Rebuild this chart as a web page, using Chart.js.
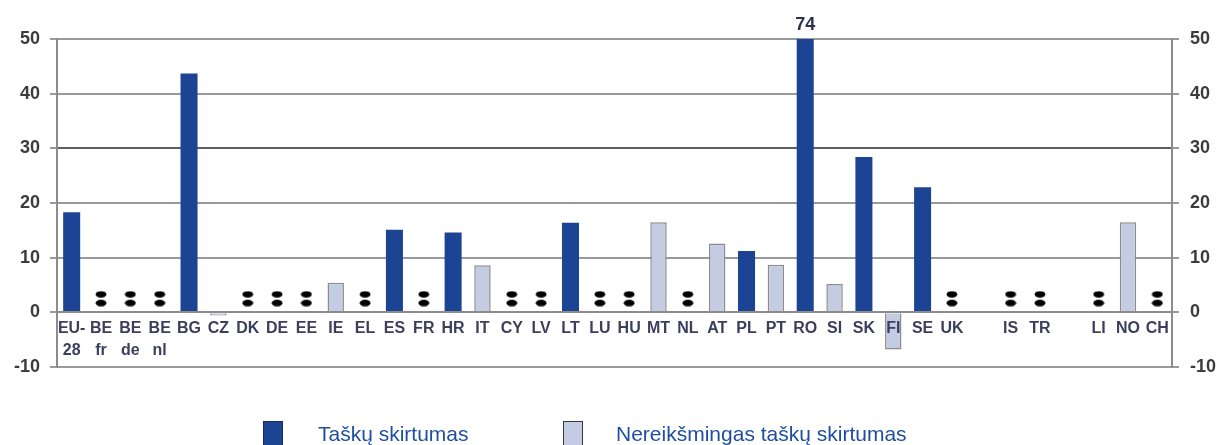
<!DOCTYPE html>
<html>
<head>
<meta charset="utf-8">
<script src="https://cdn.jsdelivr.net/npm/chart.js@4.4.1/dist/chart.umd.min.js"></script>
<style>
html,body{margin:0;padding:0;background:#fff;}
#wrap{position:relative;width:1220px;height:445px;overflow:hidden;background:#fff;}
#c{position:absolute;left:0;top:0;}
.sw{position:absolute;top:421px;width:20px;height:30px;box-sizing:border-box;}
.lt{position:absolute;top:422px;font:21px "Liberation Sans",Arial,sans-serif;color:#1f4e9f;white-space:nowrap;line-height:24px;}
</style>
</head>
<body>
<div id="wrap">
<canvas id="c" width="1220" height="445"></canvas>
<div class="sw" style="left:263px;background:#1d4395;border:1px solid #1a2a5a;"></div>
<div class="lt" style="left:318px;">Taškų skirtumas</div>
<div class="sw" style="left:563px;background:#c4cce4;border:1px solid #3a3a3a;"></div>
<div class="lt" style="left:616px;">Nereikšmingas taškų skirtumas</div>
</div>
<script>
// Categories (multi-line tick labels); '' = empty slot
const categories = [
  ['EU-','28'],['BE','fr'],['BE','de'],['BE','nl'],'BG','CZ','DK','DE','EE','IE','EL','ES','FR','HR','IT',
  'CY','LV','LT','LU','HU','MT','NL','AT','PL','PT','RO','SI','SK','FI','SE','UK','','IS','TR','','LI','NO','CH'
];
// Significant point difference (dark bars)
const significant = [
  18.3,null,null,null,43.7,null,null,null,null,null,null,15.1,null,14.6,null,
  null,null,16.4,null,null,null,null,null,11.2,null,74,null,28.4,null,22.9,null,null,null,null,null,null,null,null
];
// Non-significant point difference (light bars)
const nonSignificant = [
  null,null,null,null,null,-0.6,null,null,null,5.4,null,null,null,null,8.6,
  null,null,null,null,null,16.5,null,12.6,null,8.7,null,5.2,null,-6.8,null,null,null,null,null,null,null,16.5,null
];
// Categories with no data (shown as ":")
const notAvailable = ['BE fr','BE de','BE nl','DK','DE','EE','EL','FR','CY','LV','LU','HU','NL','UK','IS','TR','LI','CH'];
const yTicks = [-10,0,10,20,30,40,50];

const seriesNames = ['Taškų skirtumas','Nereikšmingas taškų skirtumas'];
const NA_MARK_LEVEL = 2.5;

const catKey = c => Array.isArray(c) ? c.join(' ') : c;
const naData = categories.map(c => notAvailable.includes(catKey(c)) ? NA_MARK_LEVEL : null);

// colon marker image
const colon = document.createElement('canvas');
colon.width = 12; colon.height = 16;
(function(){
  const g = colon.getContext('2d');
  g.fillStyle = '#000';
  g.beginPath(); g.ellipse(6, 3.7, 5.4, 3.3, 0, 0, Math.PI*2); g.fill();
  g.beginPath(); g.ellipse(6, 12.3, 5.4, 3.3, 0, 0, Math.PI*2); g.fill();
})();

const overflowLabels = {
  id: 'overflowLabels',
  afterDatasetsDraw(chart){
    const ys = chart.scales.y, ctx = chart.ctx;
    chart.data.datasets.forEach((ds, di) => {
      if (ds.type === 'line') return;
      const meta = chart.getDatasetMeta(di);
      ds.data.forEach((v, i) => {
        if (v != null && v > ys.max) {
          ctx.save();
          ctx.font = 'bold 18px "Liberation Sans", Arial, sans-serif';
          ctx.fillStyle = '#2b3050';
          ctx.textAlign = 'center';
          ctx.textBaseline = 'alphabetic';
          ctx.fillText(String(v), meta.data[i].x, chart.chartArea.top - 9);
          ctx.restore();
        }
      });
    });
  }
};

const gridColor = ctx => (ctx.tick && ctx.tick.value === 30) ? '#5e5e5e' : '#9a9a9a';
const tickFont = {family: '"Liberation Sans", Arial, sans-serif', size: 18, weight: 'bold'};

new Chart(document.getElementById('c'), {
  type: 'bar',
  data: {
    labels: categories,
    datasets: [
      {label: seriesNames[0], data: significant, backgroundColor: '#1d4395', borderColor: '#1d4395', borderWidth: 0, grouped: false, barPercentage: 0.58, categoryPercentage: 1, order: 2},
      {label: seriesNames[1], data: nonSignificant, backgroundColor: '#c4cce4', borderColor: '#8c8c8c', borderWidth: 1.5, grouped: false, barPercentage: 0.56, categoryPercentage: 1, order: 2},
      {type: 'line', label: ':', data: naData, showLine: false, pointStyle: colon, pointRadius: 6, pointHoverRadius: 6, order: 1}
    ]
  },
  options: {
    responsive: false,
    animation: false,
    events: [],
    layout: {padding: {top: 39, bottom: 78, left: 0, right: 0}},
    plugins: {legend: {display: false}, tooltip: {enabled: false}},
    scales: {
      x: {
        position: {y: 0},
        offset: true,
        grid: {display: false, drawTicks: false},
        border: {display: true, color: '#8c8c8c', width: 2, z: 1},
        ticks: {
          z: 1,
          autoSkip: false, maxRotation: 0, padding: 5,
          color: '#3b3f5c',
          font: {family: '"Liberation Sans", Arial, sans-serif', size: 16, weight: 'bold', lineHeight: 1.4}
        }
      },
      y: {
        position: 'left',
        min: -10, max: 50,
        afterBuildTicks: s => { s.ticks = yTicks.map(v => ({value: v})); },
        afterFit: s => { s.width = 57; },
        grid: {color: gridColor, lineWidth: 2, drawTicks: true, tickLength: 7, tickColor: '#9a9a9a'},
        border: {display: true, color: '#8c8c8c', width: 2},
        ticks: {color: '#3c3c3c', font: tickFont, padding: 10}
      },
      y2: {
        position: 'right',
        min: -10, max: 50,
        afterBuildTicks: s => { s.ticks = yTicks.map(v => ({value: v})); },
        afterFit: s => { s.width = 48; },
        grid: {drawOnChartArea: false, drawTicks: true, tickLength: 7, color: '#9a9a9a', lineWidth: 2},
        border: {display: true, color: '#8c8c8c', width: 2},
        ticks: {color: '#3c3c3c', font: tickFont, padding: 11}
      }
    }
  },
  plugins: [overflowLabels]
});
</script>
</body>
</html>
